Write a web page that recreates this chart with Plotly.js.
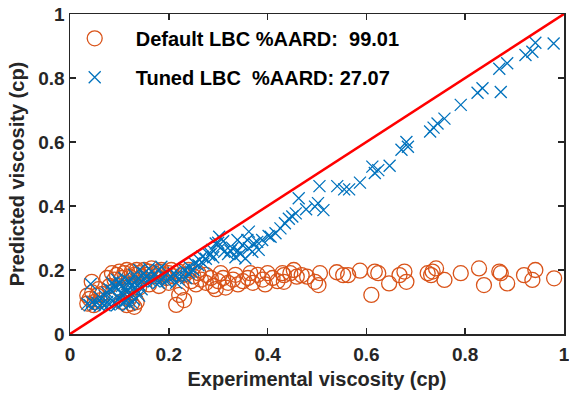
<!DOCTYPE html>
<html>
<head>
<meta charset="utf-8">
<script src="https://cdn.plot.ly/plotly-3.0.1.min.js"></script>
<style>html,body{margin:0;padding:0;background:#fff}#chart{width:569px;height:396px}</style>
</head>
<body>
<div id="chart"></div>
<script>
// Default LBC (orange circles)
const defaultX = [
0.044,0.035,0.040,0.045,0.050,0.055,0.060,0.065,0.035,0.048,0.058,
0.075,0.085,0.090,0.095,0.100,0.105,0.110,0.115,0.120,0.125,0.130,0.135,0.140,0.145,0.150,0.155,0.160,0.165,0.170,0.175,0.180,0.185,0.190,0.195,0.200,0.205,0.210,0.220,0.230,0.240,0.250,0.260,
0.080,0.100,0.120,0.140,0.160,0.180,0.200,
0.105,0.115,0.125,0.135,0.130,0.120,0.225,0.221,0.231,0.215,
0.245,0.255,0.265,0.275,0.285,0.290,0.300,0.310,0.320,0.330,0.340,0.350,0.360,0.370,0.380,0.390,0.400,0.410,0.420,0.430,0.275,0.305,0.335,0.365,0.395,0.295,0.315,
0.433,0.433,0.446,0.453,0.459,0.469,0.480,0.496,0.503,0.506,0.540,0.553,0.563,0.587,0.610,0.617,0.624,0.646,0.667,0.677,0.681,0.724,0.731,0.741,0.734,0.758,0.791,0.828,0.838,0.869,0.872,0.885,0.919,0.942,0.936,0.980
];
const defaultY = [
0.163,0.120,0.110,0.130,0.100,0.120,0.105,0.125,0.095,0.090,0.140,
0.175,0.190,0.170,0.185,0.195,0.175,0.190,0.200,0.180,0.195,0.185,0.200,0.190,0.180,0.200,0.185,0.195,0.205,0.190,0.180,0.195,0.200,0.185,0.175,0.190,0.200,0.180,0.195,0.185,0.200,0.180,0.190,
0.150,0.140,0.150,0.145,0.155,0.150,0.160,
0.100,0.090,0.095,0.100,0.085,0.110,0.145,0.122,0.106,0.091,
0.165,0.155,0.170,0.160,0.175,0.150,0.165,0.175,0.160,0.170,0.155,0.165,0.175,0.160,0.185,0.170,0.190,0.175,0.165,0.190,0.185,0.190,0.185,0.190,0.155,0.140,0.145,
0.184,0.163,0.190,0.200,0.179,0.184,0.179,0.163,0.153,0.190,0.193,0.184,0.184,0.198,0.122,0.195,0.190,0.158,0.184,0.195,0.163,0.190,0.184,0.205,0.195,0.169,0.190,0.205,0.153,0.195,0.190,0.158,0.184,0.200,0.169,0.174
];
// Tuned LBC (blue crosses)
const tunedX = [
0.979,0.942,0.936,0.922,0.885,0.869,0.872,0.835,0.825,0.791,0.758,0.744,0.736,0.729,0.681,0.671,0.684,0.647,0.624,0.612,0.617,0.587,0.565,0.555,0.541,0.505,0.513,0.502,0.496,0.478,0.463,0.457,0.450,0.443,0.435,0.426,0.416,0.406,0.402,0.389,0.379,0.372,0.362,0.359,0.362,0.349,0.339,0.329,0.312,0.302,0.295,0.288,0.282,0.268,0.262,0.252,0.241,0.231,0.215,0.205,0.355,0.382,0.369,
0.300,0.305,0.310,0.320,0.325,0.285,0.290,0.275,0.270,0.260,0.250,0.245,0.340,0.345,0.335,
0.042,0.035,0.040,0.045,0.050,0.055,0.060,0.065,0.070,0.075,0.080,0.085,0.090,0.095,0.100,0.105,0.110,0.115,0.120,0.125,0.130,0.118,
0.060,0.070,0.075,0.080,0.085,0.090,0.095,0.100,0.105,0.110,0.115,0.120,0.125,0.130,0.135,0.140,0.145,0.150,0.155,0.160,0.165,0.170,0.175,0.180,0.185,0.190,0.195,0.200,0.210,0.220,0.225,0.235,0.240,0.215,0.165,0.150,0.130,0.110,0.095,0.085,0.135,0.140,0.125,0.145,0.130,0.115,0.105,
0.140,0.160,0.180,0.185
];
const tunedY = [
0.908,0.910,0.882,0.872,0.846,0.829,0.756,0.768,0.754,0.716,0.673,0.658,0.645,0.633,0.600,0.576,0.585,0.526,0.512,0.523,0.503,0.473,0.452,0.452,0.462,0.462,0.387,0.409,0.398,0.390,0.424,0.377,0.367,0.360,0.346,0.330,0.315,0.304,0.306,0.294,0.288,0.283,0.320,0.294,0.268,0.278,0.294,0.268,0.257,0.304,0.283,0.263,0.247,0.242,0.231,0.221,0.210,0.200,0.184,0.179,0.236,0.263,0.257,
0.285,0.270,0.290,0.250,0.260,0.250,0.240,0.235,0.220,0.215,0.200,0.195,0.260,0.250,0.240,
0.156,0.095,0.090,0.100,0.092,0.098,0.088,0.095,0.090,0.100,0.092,0.105,0.098,0.090,0.110,0.095,0.100,0.105,0.092,0.098,0.108,0.115,
0.115,0.120,0.130,0.140,0.135,0.150,0.145,0.160,0.150,0.140,0.155,0.165,0.150,0.160,0.170,0.155,0.165,0.175,0.160,0.170,0.180,0.165,0.175,0.160,0.170,0.180,0.165,0.175,0.190,0.170,0.180,0.175,0.190,0.160,0.195,0.190,0.185,0.175,0.170,0.160,0.135,0.120,0.125,0.140,0.145,0.130,0.125,
0.200,0.205,0.200,0.210
];
// 1:1 reference line
const refX = [0, 1];
const refY = [0, 1];
// tick labels
const tickVals = [0, 0.2, 0.4, 0.6, 0.8, 1];
const tickText = ['0', '0.2', '0.4', '0.6', '0.8', '1'];

const nb = '\u00A0';
const traces = [
  {x: defaultX, y: defaultY, type: 'scatter', mode: 'markers', name: 'Default LBC %AARD:' + nb + nb + '99.01',
   legendgroup: 'a',
   marker: {symbol: 'circle-open', size: 15, color: '#D95319', line: {width: 1.3, color: '#D95319'}}},
  {x: tunedX, y: tunedY, type: 'scatter', mode: 'markers', name: 'Tuned LBC' + nb + nb + '%AARD: 27.07',
   legendgroup: 'b',
   marker: {symbol: 'x-thin-open', size: 12, color: '#0072BD', line: {width: 1.3, color: '#0072BD'}}},
  {x: refX, y: refY, type: 'scatter', mode: 'lines', showlegend: false,
   line: {color: '#FF0000', width: 2.6}}
];

const axisCommon = {
  range: [0, 1], tickmode: 'array', tickvals: tickVals, ticktext: tickText,
  showgrid: false, zeroline: false,
  showline: true, linecolor: '#262626', linewidth: 1.5, mirror: 'ticks',
  ticks: 'inside', ticklen: 6, tickwidth: 1.5, tickcolor: '#262626',
  ticklabeloverflow: 'allow',
  tickfont: {family: 'Liberation Sans, Arial, sans-serif', size: 19, color: '#262626', weight: 'bold'}
};

const layout = {
  width: 569, height: 396,
  margin: {l: 70, r: 5, t: 14, b: 62},
  paper_bgcolor: '#fff', plot_bgcolor: '#fff',
  showlegend: true,
  legend: {x: -0.033, y: 0.985, xanchor: 'left', yanchor: 'top', bgcolor: 'rgba(0,0,0,0)', borderwidth: 0,
    traceorder: 'grouped', tracegroupgap: 10, itemwidth: 72,
    font: {family: 'Liberation Sans, Arial, sans-serif', size: 20, color: '#000', weight: 'bold'}},
  xaxis: Object.assign({}, axisCommon, {
    ticklabelstandoff: 3,
    title: {text: 'Experimental viscosity (cp)', standoff: 7,
      font: {family: 'Liberation Sans, Arial, sans-serif', size: 20, color: '#262626', weight: 'bold'}}
  }),
  yaxis: Object.assign({}, axisCommon, {
    title: {text: 'Predicted viscosity (cp)', standoff: 8,
      font: {family: 'Liberation Sans, Arial, sans-serif', size: 20, color: '#262626', weight: 'bold'}}
  })
};

Plotly.newPlot('chart', traces, layout, {displayModeBar: false, staticPlot: true});
</script>
</body>
</html>
